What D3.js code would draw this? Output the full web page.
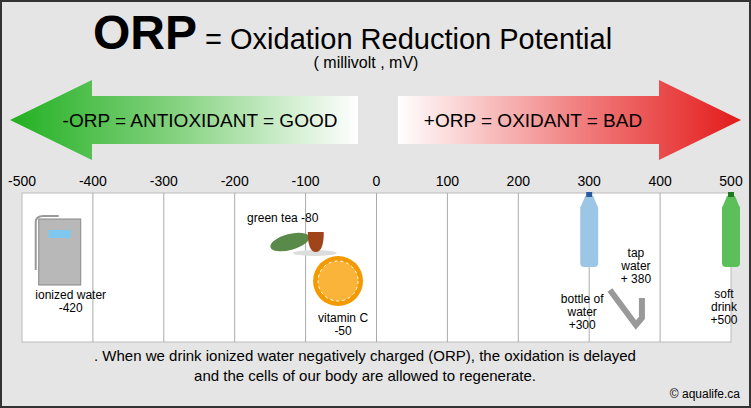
<!DOCTYPE html>
<html lang="en">
<head>
<meta charset="UTF-8">
<script src="https://d3js.org/d3.v7.min.js"></script>
<style>
  body { margin: 0; background: #fff; }
  svg { display: block; font-family: Arial, "Liberation Sans", sans-serif; }
</style>
</head>
<body>
<div id="chart"></div>
<script>
// ORP scale ticks (mV)
const tickValues = [-500, -400, -300, -200, -100, 0, 100, 200, 300, 400, 500];
// items placed on the scale
const itemNames = ["ionized water", "green tea", "vitamin C", "bottle of water", "tap water", "soft drink"];
const itemValues = [-420, -80, -50, 300, 380, 500];
const itemLabels = [["ionized water", "-420"], ["green tea -80"], ["vitamin C", "-50"],
                    ["bottle of", "water", "+300"], ["tap", "water", "+ 380"], ["soft", "drink", "+500"]];
const itemKinds = ["ionizer", "tea", "orange", "bottle", "tap", "soda"];

const W = 751, H = 408;
const svg = d3.select("#chart").append("svg").attr("width", W).attr("height", H);
const defs = svg.append("defs");

svg.append("rect").attr("x", 1).attr("y", 1).attr("width", W - 2).attr("height", H - 2)
  .attr("fill", "#e5e5e5").attr("stroke", "#333").attr("stroke-width", 2);

// title
const title = svg.append("text").attr("x", 93).attr("y", 49);
title.append("tspan").attr("font-size", 48).attr("font-weight", "bold").text("ORP");
title.append("tspan").attr("font-size", 29).attr("dx", 8).text("= Oxidation Reduction Potential");
svg.append("text").attr("x", 366).attr("y", 68).attr("text-anchor", "middle")
  .attr("font-size", 16).text("( millivolt , mV)");

// arrows
const gG = defs.append("linearGradient").attr("id", "gGreen");
gG.append("stop").attr("offset", "0%").attr("stop-color", "#22b022");
gG.append("stop").attr("offset", "45%").attr("stop-color", "#7fd07a");
gG.append("stop").attr("offset", "100%").attr("stop-color", "#ffffff");
const gR = defs.append("linearGradient").attr("id", "gRed");
gR.append("stop").attr("offset", "0%").attr("stop-color", "#ffffff");
gR.append("stop").attr("offset", "55%").attr("stop-color", "#f07a7a");
gR.append("stop").attr("offset", "100%").attr("stop-color", "#e31b1b");

svg.append("path").attr("d", "M10,120 L92,80 L92,96 L358,96 L358,144 L92,144 L92,160 Z")
  .attr("fill", "url(#gGreen)");
svg.append("path").attr("d", "M741,120 L659,80 L659,96 L398,96 L398,144 L659,144 L659,160 Z")
  .attr("fill", "url(#gRed)");
svg.append("text").attr("x", 200).attr("y", 127).attr("text-anchor", "middle")
  .attr("font-size", 19).text("-ORP = ANTIOXIDANT = GOOD");
svg.append("text").attr("x", 533).attr("y", 127).attr("text-anchor", "middle")
  .attr("font-size", 19).text("+ORP = OXIDANT = BAD");

// scale
const x = d3.scaleLinear().domain([-500, 500]).range([22, 731]);
const boxTop = 193, boxBot = 342;
svg.append("rect").attr("x", x(-500)).attr("y", boxTop).attr("width", x(500) - x(-500))
  .attr("height", boxBot - boxTop).attr("fill", "#fff").attr("stroke", "#bbb");
svg.append("g").selectAll("line").data(tickValues.slice(1, -1)).join("line")
  .attr("x1", d => x(d)).attr("x2", d => x(d)).attr("y1", boxTop).attr("y2", boxBot)
  .attr("stroke", "#aaa");
svg.append("g").selectAll("text").data(tickValues).join("text")
  .attr("x", d => x(d)).attr("y", 186).attr("text-anchor", "middle")
  .attr("font-size", 14).text(d => d);

// items
const items = itemNames.map((n, i) => ({ name: n, value: itemValues[i], label: itemLabels[i], kind: itemKinds[i] }));
const labelPos = { ionizer: [-8, 299], tea: [-37, 222], orange: [2, 322], bottle: [-7, 303], tap: [-10, 257], soda: [-7, 298] };

items.forEach(d => {
  const cx = x(d.value);
  const g = svg.append("g");
  if (d.kind === "ionizer") {
    g.append("rect").attr("x", cx - 40).attr("y", 219).attr("width", 42).attr("height", 66).attr("fill", "#b8b8b8").attr("stroke", "#888");
    g.append("rect").attr("x", cx - 30).attr("y", 230).attr("width", 22).attr("height", 8).attr("fill", "#7ec8f0");
    g.append("path").attr("d", `M${cx - 43},270 L${cx - 43},222 Q${cx - 43},216 ${cx - 35},216 L${cx - 20},216`).attr("fill", "none").attr("stroke", "#999").attr("stroke-width", 2);
  } else if (d.kind === "tea") {
    g.append("ellipse").attr("cx", cx - 30).attr("cy", 242).attr("rx", 20).attr("ry", 8).attr("fill", "#5a8a4a").attr("transform", `rotate(-15 ${cx - 30} 242)`);
    g.append("ellipse").attr("cx", cx - 5).attr("cy", 253).attr("rx", 22).attr("ry", 3).attr("fill", "#ddd");
    g.append("path").attr("d", `M${cx - 12},232 L${cx + 4},232 Q${cx + 4},252 ${cx - 4},252 Q${cx - 12},252 ${cx - 12},232 Z`).attr("fill", "#a0451a");
  } else if (d.kind === "orange") {
    g.append("circle").attr("cx", cx - 3).attr("cy", 281).attr("r", 25).attr("fill", "#f39a00");
    g.append("circle").attr("cx", cx - 3).attr("cy", 281).attr("r", 20).attr("fill", "#fbb43a").attr("stroke", "#fff").attr("stroke-dasharray", "3 3");
  } else if (d.kind === "bottle" || d.kind === "soda") {
    const col = d.kind === "bottle" ? "#9cc6e6" : "#5cbf5a";
    g.append("rect").attr("x", cx - 9).attr("y", 205).attr("width", 18).attr("height", 62).attr("rx", 4).attr("fill", col);
    g.append("path").attr("d", `M${cx - 9},208 L${cx - 4},196 L${cx + 4},196 L${cx + 9},208 Z`).attr("fill", col);
    g.append("rect").attr("x", cx - 3).attr("y", 192).attr("width", 6).attr("height", 5).attr("fill", d.kind === "bottle" ? "#2a5aa0" : "#1e7a1e");
  } else if (d.kind === "tap") {
    g.append("path").attr("d", `M${cx - 36},290 L${cx - 10},325 L${cx - 4},318 L${cx - 4},298`).attr("fill", "none").attr("stroke", "#999").attr("stroke-width", 6);
  }
  const t = g.append("text").attr("x", cx + labelPos[d.kind][0]).attr("y", labelPos[d.kind][1])
    .attr("text-anchor", "middle").attr("font-size", 12);
  d.label.forEach((l, i) => t.append("tspan").attr("x", cx + labelPos[d.kind][0]).attr("dy", i ? 13 : 0).text(l));
});

// footer
svg.append("text").attr("x", 365).attr("y", 361).attr("text-anchor", "middle").attr("font-size", 15)
  .text(". When we drink ionized water negatively charged (ORP),  the oxidation is delayed");
svg.append("text").attr("x", 365).attr("y", 381).attr("text-anchor", "middle").attr("font-size", 15)
  .text("and the cells of our body are allowed to regenerate.");
svg.append("text").attr("x", 740).attr("y", 398).attr("text-anchor", "end").attr("font-size", 12)
  .text("© aqualife.ca");
</script>
</body>
</html>
